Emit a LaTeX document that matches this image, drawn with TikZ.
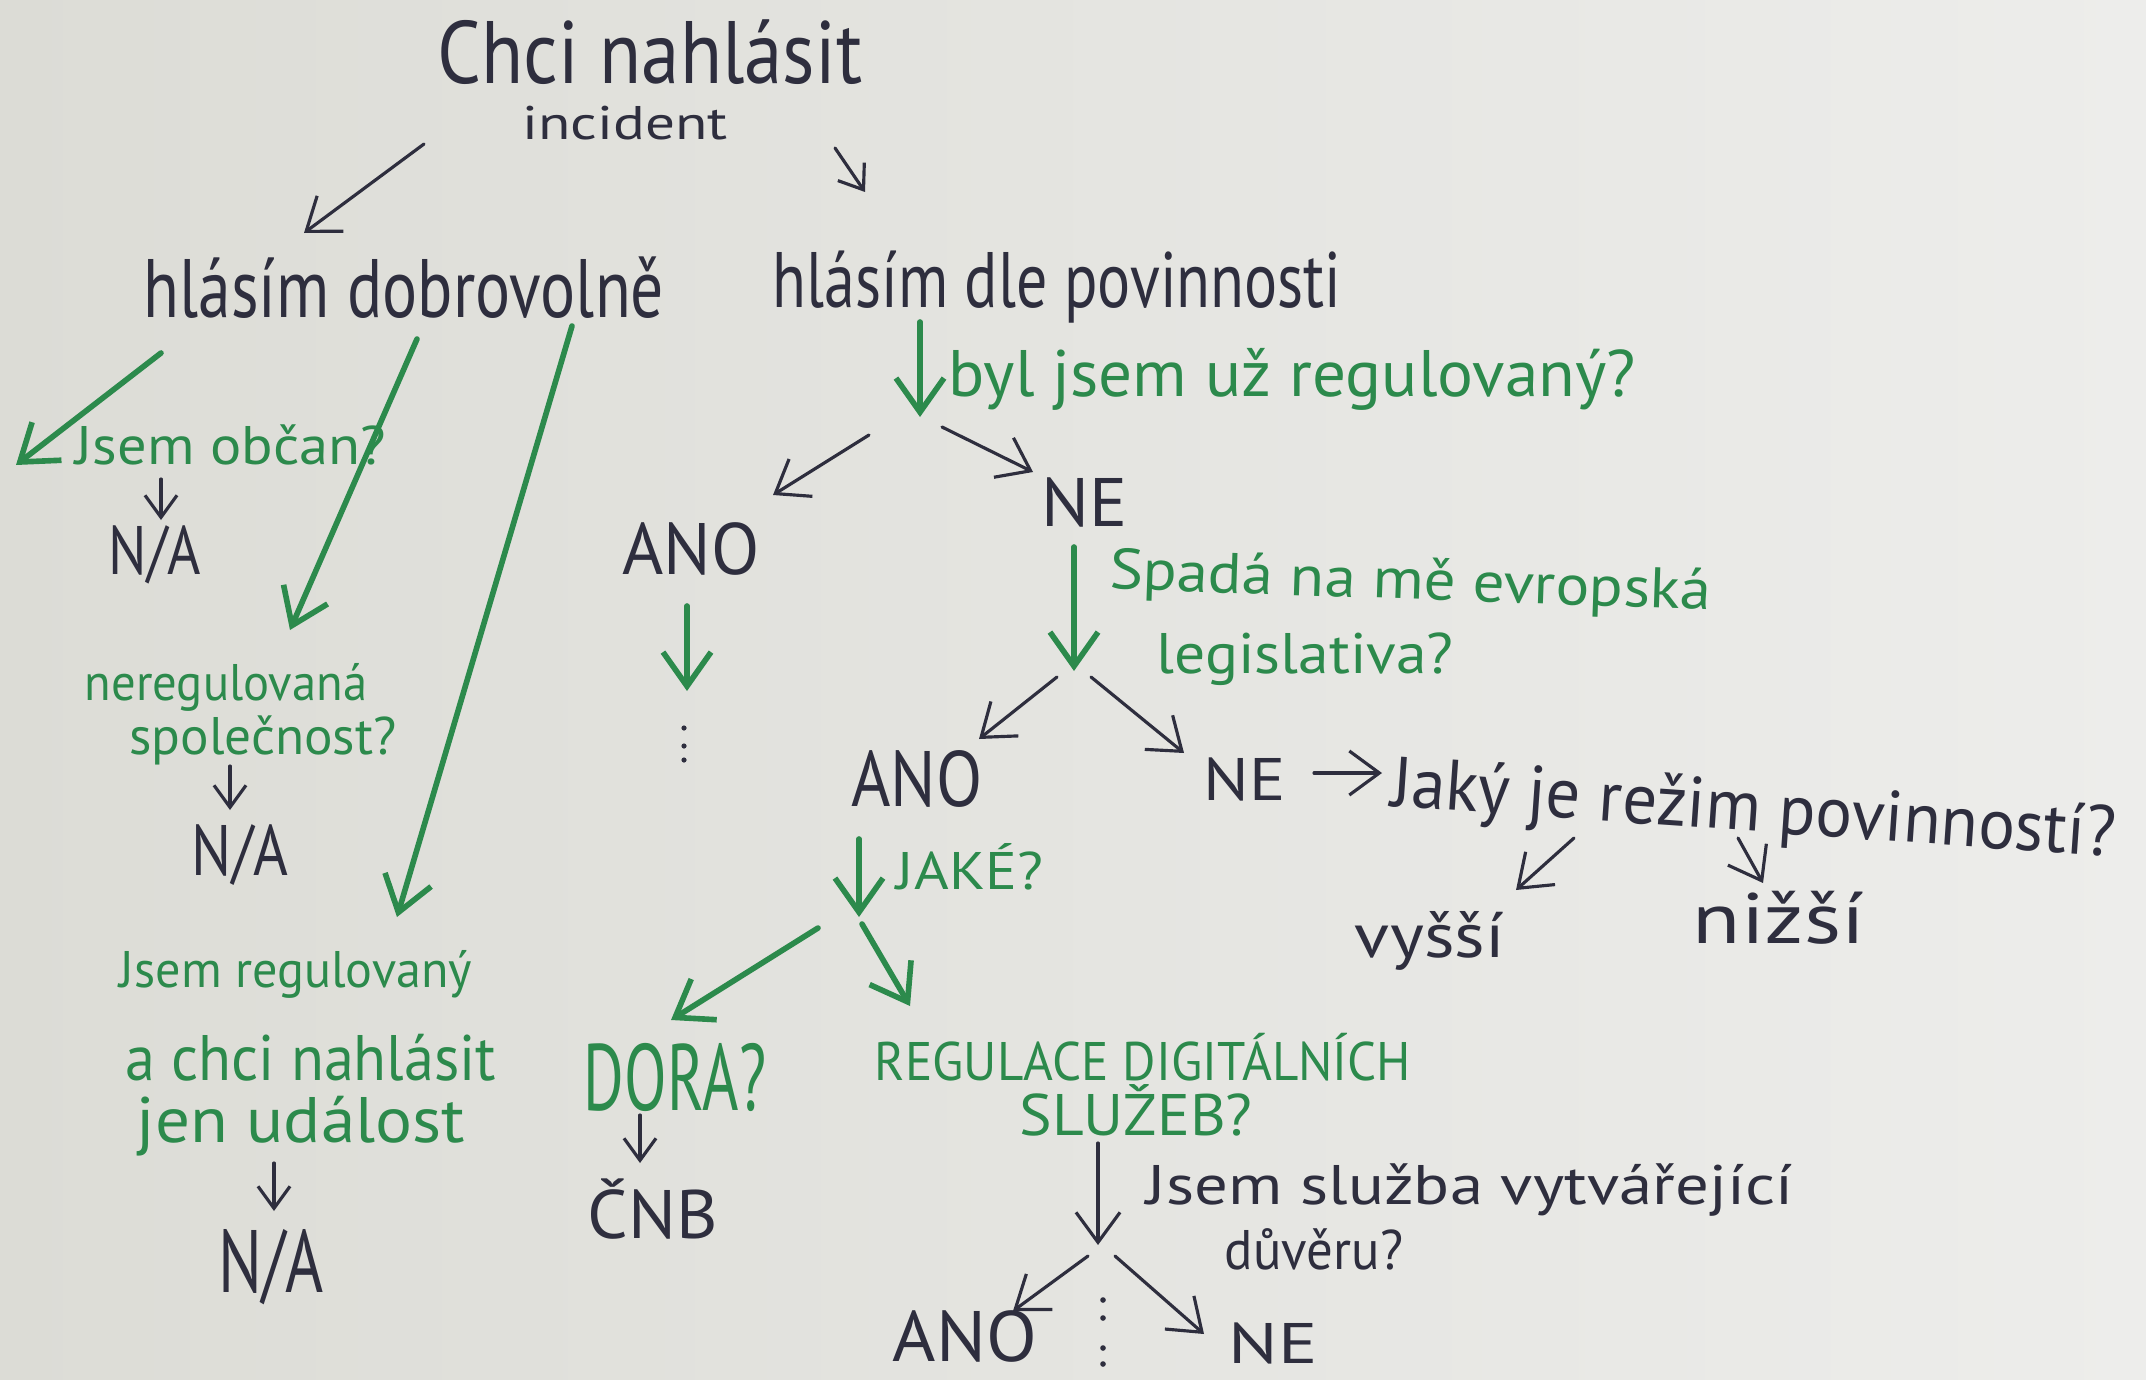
\documentclass[tikz,border=0pt]{standalone}
\usepackage{fontspec}
\setmainfont{PT Sans}
\usetikzlibrary{arrows.meta}
\definecolor{bgl}{HTML}{DCDCD6}
\definecolor{bgr}{HTML}{EDEDEB}
\definecolor{ink}{HTML}{2E2E3E}
\definecolor{mk}{HTML}{2C8A4C}
% #1 width, #2 cap height, #3 text
\newcommand{\hw}[3]{\resizebox{#1}{#2}{\raisebox{0pt}[\fontcharht\font`\H][0pt]{#3}}}
\tikzset{
  txt/.style={inner sep=0pt, text=ink, anchor=south},
  gtxt/.style={inner sep=0pt, text=mk, anchor=south},
  blk/.style={draw=ink, line width=0.9pt, line cap=round, -{Straight Barb[length=3mm,width=4.4mm]}},
  blks/.style={draw=ink, line width=0.9pt, line cap=round, -{Straight Barb[length=2.2mm,width=3.2mm]}},
  grn/.style={draw=mk, line width=1.6pt, line cap=round, -{Straight Barb[length=3.4mm,width=4.8mm]}},
  dotm/.style={fill=ink, draw=none}
}
\begin{document}
\begin{tikzpicture}[x=0.01cm,y=-0.01cm]
\shade[left color=bgl, right color=bgr] (0,0) rectangle (2146,1379);
\useasboundingbox (0,0) rectangle (2146,1379);

% texts (positions are baselines)
\node[txt] (t0) at (650,84) {\hw{4.24cm}{0.62cm}{Chci nahlásit}};
\node[txt] (t1) at (625,140) {\hw{2.05cm}{0.33cm}{incident}};
\node[txt] (t2) at (404,318) {\hw{5.2cm}{0.58cm}{hlásím dobrovolně}};
\node[txt] (t3) at (1057,308) {\hw{5.68cm}{0.55cm}{hlásím dle povinnosti}};
\node[gtxt] (t4) at (231,465) {\hw{3.1cm}{0.38cm}{Jsem občan?}};
\node[txt] (t5) at (155,575) {\hw{0.92cm}{0.48cm}{N/A}};
\node[gtxt] (t6) at (226,701) {\hw{2.82cm}{0.36cm}{neregulovaná}};
\node[gtxt] (t7) at (263,755) {\hw{2.67cm}{0.37cm}{společnost?}};
\node[txt] (t8) at (240,876) {\hw{0.96cm}{0.50cm}{N/A}};
\node[gtxt] (t9) at (296,988) {\hw{3.52cm}{0.36cm}{Jsem regulovaný}};
\node[gtxt] (t10) at (311,1081) {\hw{3.70cm}{0.45cm}{a chci nahlásit}};
\node[gtxt] (t11) at (301,1143) {\hw{3.28cm}{0.45cm}{jen událost}};
\node[txt] (t12) at (271,1293) {\hw{1.05cm}{0.62cm}{N/A}};
\node[gtxt] (t13) at (1292,397) {\hw{6.87cm}{0.46cm}{byl jsem už regulovaný?}};
\node[txt] (t14) at (691,575) {\hw{1.37cm}{0.51cm}{ANO}};
\node[txt] (t15) at (1085,527) {\hw{0.86cm}{0.48cm}{NE}};
\node[gtxt, rotate=-2] (t16) at (1410,600) {\hw{6.02cm}{0.40cm}{Spadá na mě evropská}};
\node[gtxt] (t17) at (1305,674) {\hw{2.97cm}{0.40cm}{legislativa?}};
\node[txt] (t18) at (917,807) {\hw{1.31cm}{0.55cm}{ANO}};
\node[txt] (t19) at (1245,801) {\hw{0.82cm}{0.42cm}{NE}};
\node[txt, rotate=-4] (t20) at (1752,832) {\hw{7.25cm}{0.50cm}{Jaký je režim povinností?}};
\node[txt] (t21) at (1430,958) {\hw{1.50cm}{0.44cm}{vyšší}};
\node[txt] (t22) at (1779,944) {\hw{1.72cm}{0.50cm}{nižší}};
\node[gtxt] (t23) at (970,890) {\hw{1.46cm}{0.37cm}{JAKÉ?}};
\node[gtxt] (t24) at (675,1111) {\hw{1.82cm}{0.66cm}{DORA?}};
\node[txt] (t25) at (653,1239) {\hw{1.30cm}{0.48cm}{ČNB}};
\node[gtxt] (t26) at (1143,1081) {\hw{5.36cm}{0.38cm}{REGULACE DIGITÁLNÍCH}};
\node[gtxt] (t27) at (1136,1136) {\hw{2.33cm}{0.41cm}{SLUŽEB?}};
\node[txt] (t28) at (1470,1205) {\hw{6.46cm}{0.39cm}{Jsem služba vytvářející}};
\node[txt] (t29) at (1314,1270) {\hw{1.78cm}{0.39cm}{důvěru?}};
\node[txt] (t30) at (965,1362) {\hw{1.44cm}{0.50cm}{ANO}};
\node[txt] (t31) at (1273,1364) {\hw{0.89cm}{0.40cm}{NE}};

% connector end points
\coordinate (a1s) at (424,144); \coordinate (a1e) at (304,233);
\coordinate (a2s) at (835,148); \coordinate (a2e) at (865,192);
\coordinate (g1s) at (161,353); \coordinate (g1e) at (16,465);
\coordinate (b3s) at (161,479); \coordinate (b3e) at (161,520);
\coordinate (g2s) at (417,339); \coordinate (g2e) at (290,630);
\coordinate (b4s) at (230,766); \coordinate (b4e) at (230,810);
\coordinate (g3s) at (572,326); \coordinate (g3e) at (397,917);
\coordinate (b5s) at (274,1163); \coordinate (b5e) at (274,1211);
\coordinate (g4s) at (920,322); \coordinate (g4e) at (920,417);
\coordinate (b6s) at (869,435); \coordinate (b6e) at (773,495);
\coordinate (b7s) at (942,427); \coordinate (b7e) at (1033,472);
\coordinate (g5s) at (687,606); \coordinate (g5e) at (687,691);
\coordinate (g6s) at (1074,547); \coordinate (g6e) at (1074,671);
\coordinate (b8s) at (1057,677); \coordinate (b8e) at (979,739);
\coordinate (b9s) at (1091,677); \coordinate (b9e) at (1184,753);
\coordinate (b10s) at (1314,773); \coordinate (b10e) at (1382,773);
\coordinate (b11s) at (1574,838); \coordinate (b11e) at (1516,890);
\coordinate (b12s) at (1738,838); \coordinate (b12e) at (1763,883);
\coordinate (g7s) at (859,839); \coordinate (g7e) at (859,917);
\coordinate (g8s) at (818,928); \coordinate (g8e) at (671,1020);
\coordinate (g9s) at (862,924); \coordinate (g9e) at (910,1006);
\coordinate (b13s) at (640,1115); \coordinate (b13e) at (640,1163);
\coordinate (b14s) at (1098,1143); \coordinate (b14e) at (1098,1245);
\coordinate (b15s) at (1088,1256); \coordinate (b15e) at (1013,1311);
\coordinate (b16s) at (1115,1256); \coordinate (b16e) at (1204,1334);

\draw[blk] (a1s) -- (a1e);
\draw[blks] (a2s) -- (a2e);
\draw[grn] (g1s) -- (g1e);
\draw[blks] (b3s) -- (b3e);
\draw[grn] (g2s) -- (g2e);
\draw[blks] (b4s) -- (b4e);
\draw[grn] (g3s) -- (g3e);
\draw[blks] (b5s) -- (b5e);
\draw[grn] (g4s) -- (g4e);
\draw[blk] (b6s) -- (b6e);
\draw[blk] (b7s) -- (b7e);
\draw[grn] (g5s) -- (g5e);
\draw[grn] (g6s) -- (g6e);
\draw[blk] (b8s) -- (b8e);
\draw[blk] (b9s) -- (b9e);
\draw[blk] (b10s) -- (b10e);
\draw[blk] (b11s) -- (b11e);
\draw[blk] (b12s) -- (b12e);
\draw[grn] (g7s) -- (g7e);
\draw[grn] (g8s) -- (g8e);
\draw[grn] (g9s) -- (g9e);
\draw[blks] (b13s) -- (b13e);
\draw[blk] (b14s) -- (b14e);
\draw[blk] (b15s) -- (b15e);
\draw[blk] (b16s) -- (b16e);

% dots
\fill[dotm] (684,728) circle (2.6);
\fill[dotm] (684,746) circle (2.6);
\fill[dotm] (684,760) circle (2.6);
\fill[dotm] (1103,1300) circle (2.8);
\fill[dotm] (1103,1318) circle (2.8);
\fill[dotm] (1103,1348) circle (2.8);
\fill[dotm] (1103,1364) circle (2.8);
\end{tikzpicture}
\end{document}
